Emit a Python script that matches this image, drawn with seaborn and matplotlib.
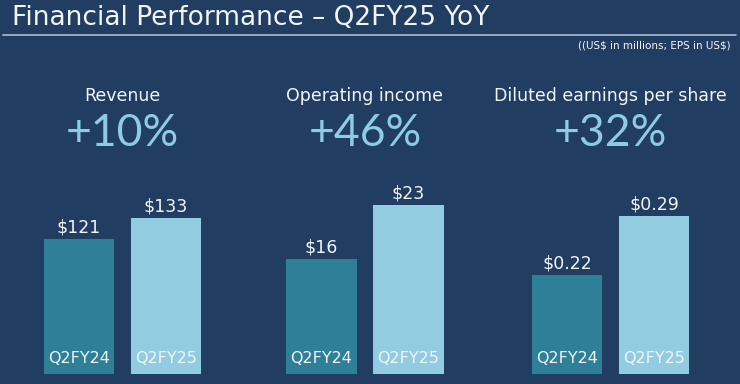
import matplotlib
matplotlib.use("Agg")
import matplotlib.pyplot as plt
from matplotlib.lines import Line2D
import seaborn as sns

# data
periods = ["Q2FY24", "Q2FY25"]
metrics = ["Revenue", "Operating income", "Diluted earnings per share"]
changes = ["+10%", "+46%", "+32%"]
revenue = [121, 133]
op_income = [16, 23]
eps = [0.22, 0.29]
value_fmt = ["${:.0f}", "${:.0f}", "${:.2f}"]

BG = "#213e62"
BAR_COLORS = ["#2d8098", "#92cce0"]
PCT_COLOR = "#8ecbe4"
TXT = "#f2f5f8"

W, H = 740, 384
# per-panel layout in pixels: axes left, and y-limits so heights match the slide
panel_left = [35.5, 278, 523.5]
panel_ylim = [(43.86, 154.7), (1.093, 26.24), (0.1026, 0.3328)]
ax_bottom_px, ax_top_px = 374, 180
ax_width_px = 174

sns.set_theme(style="white")
plt.rcParams["font.family"] = ["DejaVu Sans"]
plt.rcParams["text.parse_math"] = False

fig = plt.figure(figsize=(W / 100, H / 100), dpi=100)
fig.patch.set_facecolor(BG)

fig.text(12 / W, 1 - 18 / H, "Financial Performance \u2013 Q2FY25 YoY",
         color=TXT, fontsize=19, va="center", ha="left")
fig.add_artist(Line2D([3 / W, 736 / W], [1 - 35 / H, 1 - 35 / H],
                      color="#a9bccf", lw=1.2))
fig.text(731 / W, 1 - 46 / H, "((US$ in millions; EPS in US$)",
         color=TXT, fontsize=7.5, va="center", ha="right")

all_values = [revenue, op_income, eps]
for i, vals in enumerate(all_values):
    ax = fig.add_axes([panel_left[i] / W, 1 - ax_bottom_px / H,
                       ax_width_px / W, (ax_bottom_px - ax_top_px) / H])
    ax.set_facecolor(BG)
    sns.barplot(x=periods, y=vals, hue=periods, palette=BAR_COLORS,
                width=0.805, ax=ax, legend=False, saturation=1, linewidth=0)
    ax.set_xlim(-0.5, 1.5)
    ax.set_ylim(*panel_ylim[i])
    for s in ax.spines.values():
        s.set_visible(False)
    ax.set_xticks([])
    ax.set_yticks([])
    ax.set_xlabel("")
    ax.set_ylabel("")
    for j, cont in enumerate(ax.containers):
        ax.bar_label(cont, labels=[value_fmt[i].format(vals[j])], padding=2,
                     color=TXT, fontsize=12.5)
    for j, p in enumerate(periods):
        ax.annotate(p, (j, panel_ylim[i][0]), xytext=(0, 11),
                    textcoords="offset points", ha="center", va="center",
                    color=TXT, fontsize=11.5)

    cx = (panel_left[i] + ax_width_px / 2) / W
    fig.text(cx, 1 - 96 / H, metrics[i], color=TXT, fontsize=12.5,
             ha="center", va="center")
    fig.text(cx, 1 - 134 / H, changes[i], color=PCT_COLOR, fontsize=32,
             ha="center", va="center", family=["Lato", "DejaVu Sans"],
             fontweight="normal")

fig.savefig("out.png", dpi=100, facecolor=BG)
